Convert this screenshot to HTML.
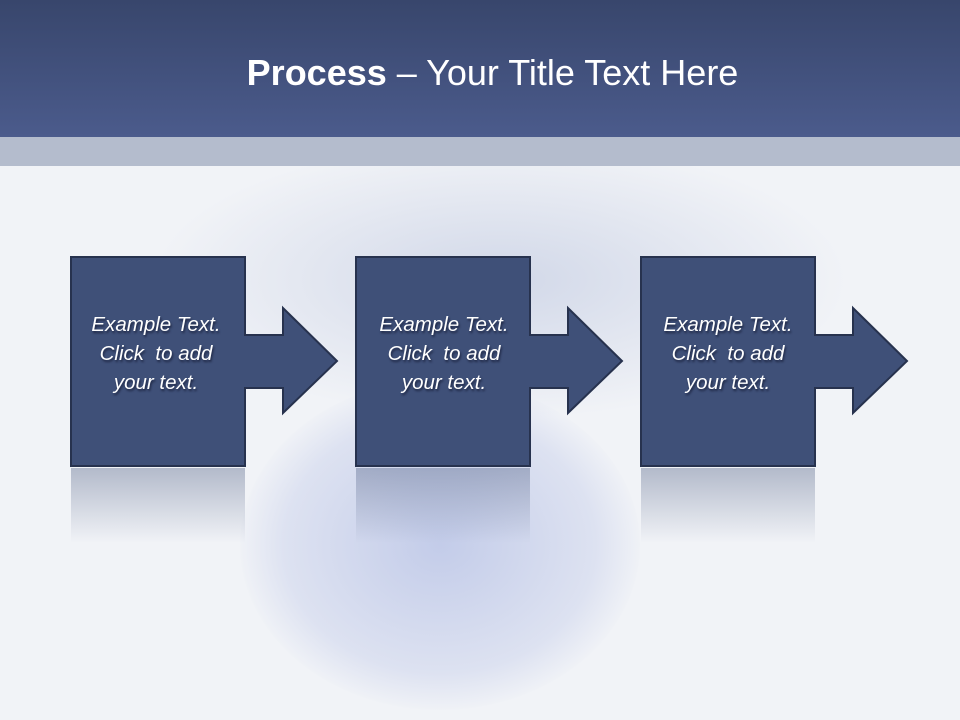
<!DOCTYPE html>
<html><head><style>
body{margin:0;width:960px;height:720px;overflow:hidden;background:#f1f3f7;font-family:"Liberation Sans",sans-serif;position:relative}
.hdr{position:absolute;left:0;top:0;width:960px;height:137px;background:linear-gradient(#38466c,#4b5b8c)}
.band{position:absolute;left:0;top:137px;width:960px;height:29px;background:#b4bccd}
.title{position:absolute;left:0;top:52px;width:985px;text-align:center;color:#fff;font-size:36px}
.blob{position:absolute;border-radius:50%}
.t{position:absolute;width:174px;text-align:center;color:#fff;font-style:italic;font-size:20.5px;line-height:29px;text-shadow:1px 2px 2px #1c2440}
</style></head><body>
<div class="blob" style="left:240px;top:380px;width:400px;height:330px;background:radial-gradient(ellipse at center,rgba(120,140,210,.38),rgba(150,165,220,.22) 55%,rgba(240,242,246,0) 72%)"></div>
<div class="blob" style="left:150px;top:140px;width:700px;height:280px;background:radial-gradient(ellipse at center,rgba(150,165,205,.35),rgba(240,242,246,0) 70%)"></div>
<div class="hdr"></div>
<div class="band"></div>
<div class="title"><b>Process</b> – Your Title Text Here</div>
<svg width="960" height="720" style="position:absolute;left:0;top:0">
<defs><linearGradient id="r" x1="0" y1="0" x2="0" y2="1"><stop offset="0" stop-color="#3f5078" stop-opacity=".35"/><stop offset="1" stop-color="#3f5078" stop-opacity="0"/></linearGradient></defs>
<g fill="url(#r)">
<rect x="71" y="468" width="174" height="75"/><rect x="356" y="468" width="174" height="75"/><rect x="641" y="468" width="174" height="75"/>
</g>
<g fill="#3f5078" stroke="#27324e" stroke-width="2">
<path d="M71 257H245V335H283V308L337 361L283 413V388H245V466H71Z"/>
<path d="M356 257H530V335H568V308L622 361L568 413V388H530V466H356Z"/>
<path d="M641 257H815V335H853V308L907 361L853 413V388H815V466H641Z"/>
</g>
</svg>
<div class="t" style="left:69px;top:310px">Example Text.<br>Click&nbsp; to add<br>your text.</div>
<div class="t" style="left:357px;top:310px">Example Text.<br>Click&nbsp; to add<br>your text.</div>
<div class="t" style="left:641px;top:310px">Example Text.<br>Click&nbsp; to add<br>your text.</div>
</body></html>
